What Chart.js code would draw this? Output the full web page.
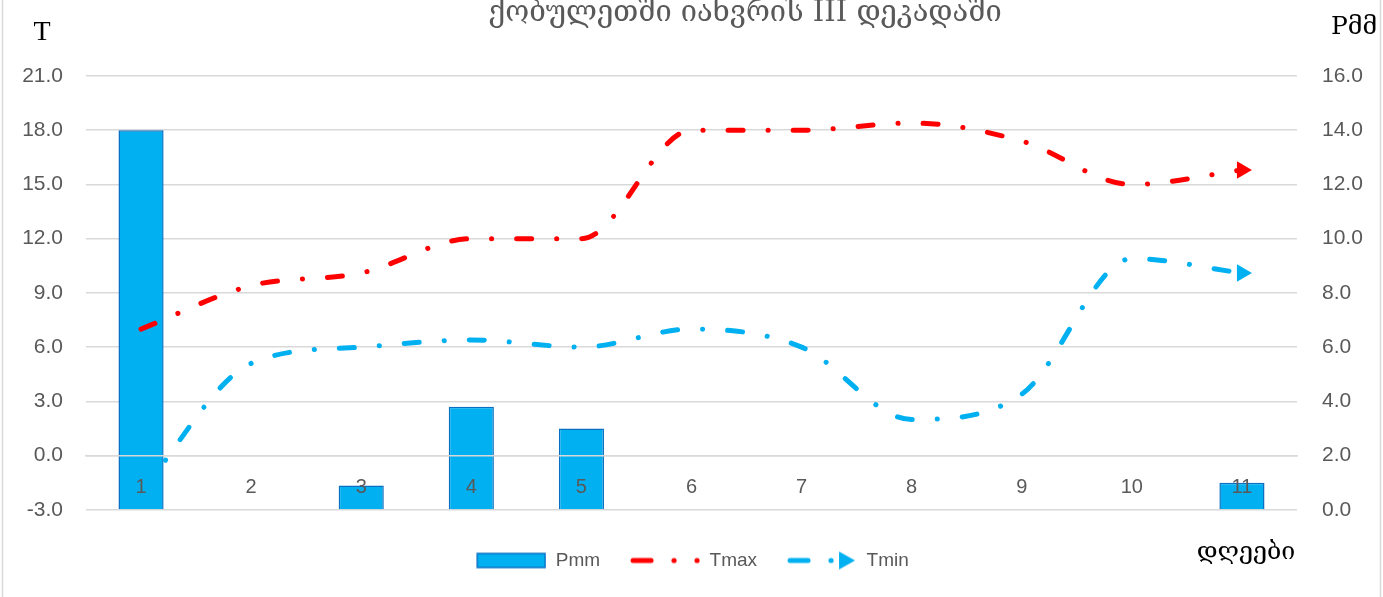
<!DOCTYPE html>
<html>
<head>
<meta charset="utf-8">
<script src="https://cdn.jsdelivr.net/npm/chart.js@4/dist/chart.umd.min.js"></script>
<style>
  html, body { margin: 0; padding: 0; background: #fff; }
  #wrap { width: 1383px; height: 597px; position: relative; }
</style>
</head>
<body>
<div id="wrap"><canvas id="myChart" width="1383" height="597"></canvas></div>
<script>
// data
const days = ['1', '2', '3', '4', '5', '6', '7', '8', '9', '10', '11'];
const pmm = [14.0, 0, 0.9, 3.8, 3.0, 0, 0, 0, 0, 0, 1.0];
const tmax = [7.0, 9.4, 10.1, 12.0, 12.0, 18.0, 18.0, 18.4, 17.4, 15.0, 15.8];
const tmin = [-2.0, 5.1, 6.0, 6.4, 6.0, 7.0, 6.0, 2.0, 3.4, 10.9, 10.1];

const leftTicks = [-3, 21, 3];   // min, max, step
const rightTicks = [0, 16, 2];

const titleText = 'ქობულეთში იანვრის III დეკადაში';
const leftAxisName = 'T';
const rightAxisName = 'Pმმ';
const bottomAxisName = 'დღეები';

const grey = '#595959';
const red = '#FF0000';
const blue = '#00B0F0';
const barEdge = '#0A6FC2';
const dash = [15, 25, 0.1, 25];

// only the last point gets the arrow head
function lastOnly(arr, v) {
  return arr.map((x, i) => i === arr.length - 1 ? v : 0);
}

// little pictures for the legend
function makeIcon(kind, color) {
  const c = document.createElement('canvas');
  c.width = 72; c.height = 20;
  const g = c.getContext('2d');
  if (kind === 'bar') {
    g.fillStyle = color;
    g.strokeStyle = barEdge;
    g.lineWidth = 1.5;
    g.fillRect(3, 3, 68, 14);
    g.strokeRect(3, 3, 68, 14);
    return c;
  }
  g.strokeStyle = color;
  g.fillStyle = color;
  g.lineWidth = 5;
  g.lineCap = 'round';
  g.beginPath();
  g.moveTo(5, 10); g.lineTo(23, 10);
  g.stroke();
  g.beginPath(); g.arc(46, 10, 2.6, 0, Math.PI * 2); g.fill();
  if (kind === 'arrow') {
    g.beginPath();
    g.moveTo(54, 1); g.lineTo(70, 10); g.lineTo(54, 19); g.closePath();
    g.fill();
  } else {
    g.beginPath(); g.arc(69, 10, 2.6, 0, Math.PI * 2); g.fill();
  }
  return c;
}
const icons = [makeIcon('bar', blue), makeIcon('dots', red), makeIcon('arrow', blue)];

const texts = {
  id: 'texts',
  afterDraw(chart) {
    const c = chart.ctx;
    c.save();
    c.strokeStyle = '#D9D9D9';
    c.lineWidth = 1.5;
    c.beginPath();
    c.moveTo(2.5, 0); c.lineTo(2.5, 597);
    c.moveTo(1380.5, 0); c.lineTo(1380.5, 597);
    c.stroke();

    c.textAlign = 'center';
    c.textBaseline = 'middle';
    c.fillStyle = grey;
    c.font = '29px "DejaVu Serif"';
    c.fillText(titleText, 745, 13);

    c.fillStyle = '#000';
    c.font = '28px "Liberation Serif"';
    c.fillText(leftAxisName, 42, 33);
    c.font = '25px "DejaVu Serif"';
    c.fillText(rightAxisName, 1354, 27);
    c.font = '25px "DejaVu Serif"';
    c.fillText(bottomAxisName, 1246, 552);
    c.restore();
  }
};

const ctx = document.getElementById('myChart');
const myChart = new Chart(ctx, {
  type: 'bar',
  data: {
    labels: days,
    datasets: [{
      type: 'line',
      label: 'Tmax',
      data: tmax,
      yAxisID: 'y',
      borderColor: red,
      backgroundColor: red,
      borderWidth: 5,
      borderDash: dash,
      borderCapStyle: 'round',
      cubicInterpolationMode: 'monotone',
      pointStyle: 'triangle',
      pointRotation: 90,
      pointRadius: lastOnly(tmax, 10),
      pointBorderWidth: 0,
      order: 0
    }, {
      type: 'line',
      label: 'Tmin',
      data: tmin,
      yAxisID: 'y',
      borderColor: blue,
      backgroundColor: blue,
      borderWidth: 5,
      borderDash: dash,
      borderCapStyle: 'round',
      cubicInterpolationMode: 'monotone',
      pointStyle: 'triangle',
      pointRotation: 90,
      pointRadius: lastOnly(tmin, 10),
      pointBorderWidth: 0,
      order: 1
    }, {
      label: 'Pmm',
      data: pmm,
      yAxisID: 'y1',
      backgroundColor: blue,
      borderColor: barEdge,
      borderWidth: 1.5,
      barPercentage: 0.41,
      categoryPercentage: 1,
      order: 2
    }]
  },
  options: {
    responsive: false,
    animation: false,
    layout: { padding: { top: 76, bottom: 17, left: 0, right: 0 } },
    plugins: {
      tooltip: { enabled: false },
      legend: {
        position: 'bottom',
        title: { display: true, text: '', font: { size: 1 }, padding: { top: 12 } },
        labels: {
          usePointStyle: true,
          pointStyleWidth: 72,
          padding: 28,
          color: grey,
          font: { family: '"Liberation Sans"', size: 19 },
          generateLabels(chart) {
            const order = [2, 0, 1];
            return order.map((di, k) => ({
              text: chart.data.datasets[di].label,
              pointStyle: icons[k],
              fontColor: grey,
              lineWidth: 0,
              datasetIndex: di,
              hidden: false
            }));
          }
        }
      }
    },
    scales: {
      x: {
        axis: 'x',
        position: { y: 0 },
        grid: { display: false, drawTicks: false },
        border: { display: true, color: '#D9D9D9', width: 1.5, z: 1 },
        ticks: { z: 1, color: grey, padding: 20, font: { family: '"Liberation Sans"', size: 20 } }
      },
      y: {
        position: 'left',
        min: leftTicks[0],
        max: leftTicks[1],
        afterFit(scale) { scale.width = 86; },
        grid: { color: '#D9D9D9', lineWidth: 1.5, drawTicks: false },
        border: { display: false },
        ticks: {
          stepSize: leftTicks[2],
          padding: 23,
          color: grey,
          font: { family: '"Liberation Sans"', size: 21 },
          callback: v => v.toFixed(1)
        }
      },
      y1: {
        position: 'right',
        min: rightTicks[0],
        max: rightTicks[1],
        afterFit(scale) { scale.width = 86; },
        grid: { drawOnChartArea: false, drawTicks: false },
        border: { display: false },
        ticks: {
          stepSize: rightTicks[2],
          padding: 25,
          color: grey,
          font: { family: '"Liberation Sans"', size: 21 },
          callback: v => v.toFixed(1)
        }
      }
    }
  },
  plugins: [texts]
});
</script>
</body>
</html>
